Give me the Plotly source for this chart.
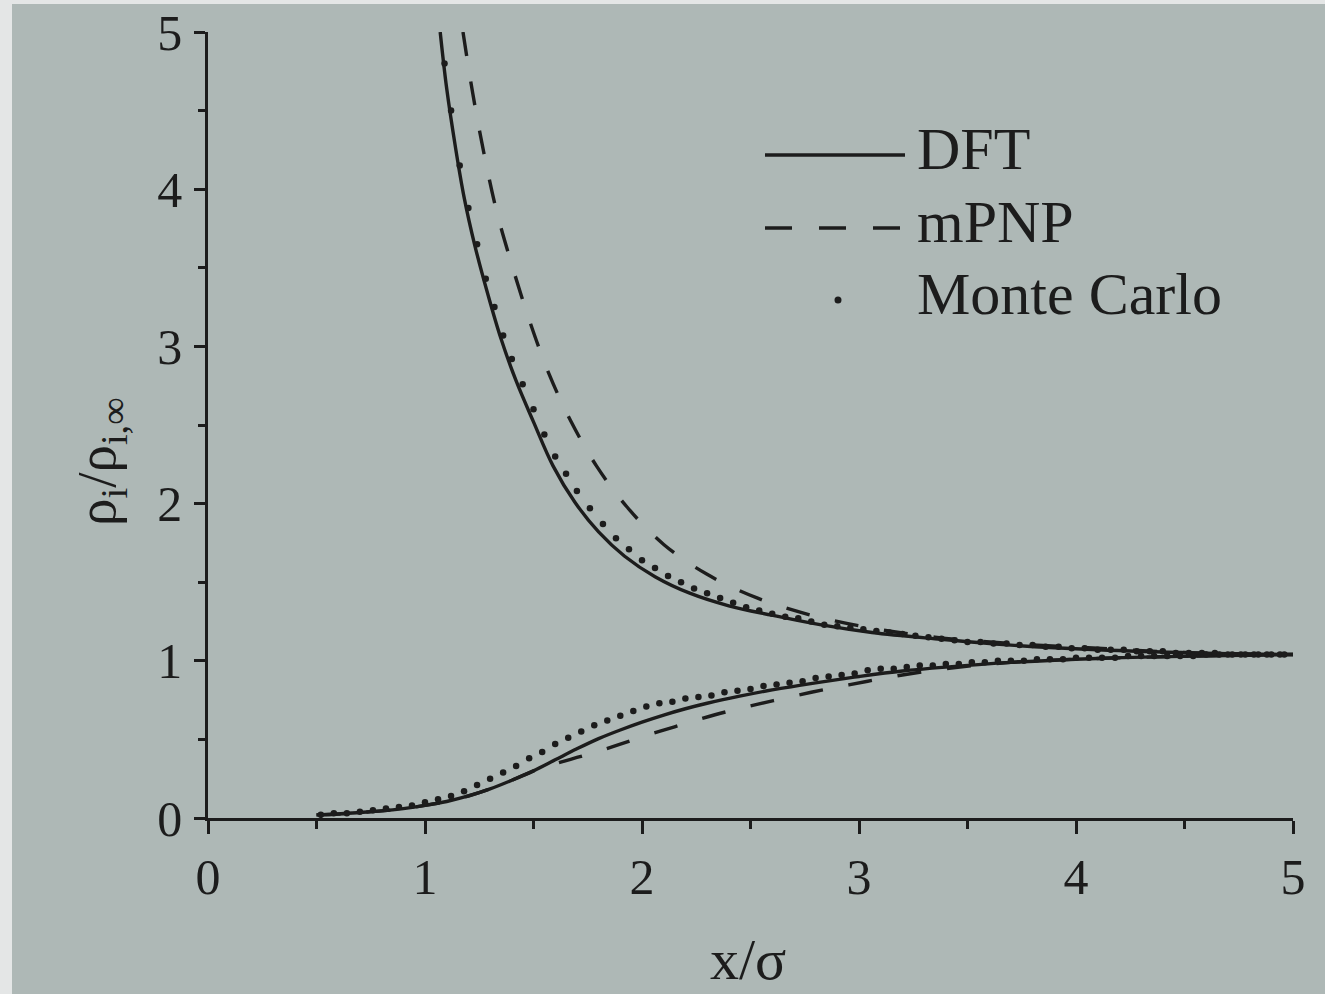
import plotly.graph_objects as go

# ---------------- data ----------------
dft_up_x = [1.07, 1.10, 1.14, 1.18, 1.23, 1.29, 1.35, 1.42, 1.50, 1.59, 1.69, 1.80,
            1.92, 2.06, 2.22, 2.40, 2.60, 2.82, 3.06, 3.35, 3.70, 4.10, 4.55, 5.00]
dft_up_y = [5.00, 4.64, 4.27, 3.95, 3.64, 3.33, 3.05, 2.78, 2.52, 2.24, 2.01, 1.82,
            1.665, 1.535, 1.43, 1.35, 1.29, 1.23, 1.18, 1.14, 1.10, 1.07, 1.05, 1.04]

dft_lo_x = [0.50, 0.60, 0.70, 0.80, 0.90, 1.00, 1.10, 1.20, 1.30, 1.40, 1.50, 1.60,
            1.70, 1.80, 1.90, 2.00, 2.10, 2.20, 2.30, 2.45, 2.60, 2.80, 3.00, 3.20,
            3.40, 3.70, 4.10, 4.55, 5.00]
dft_lo_y = [0.020, 0.025, 0.035, 0.045, 0.060, 0.080, 0.105, 0.140, 0.185, 0.240, 0.300, 0.370,
            0.440, 0.505, 0.560, 0.610, 0.655, 0.695, 0.730, 0.775, 0.815, 0.860, 0.900, 0.935,
            0.960, 0.990, 1.015, 1.030, 1.040]

mpnp_up_x = [1.175, 1.22, 1.27, 1.33, 1.40, 1.48, 1.57, 1.67, 1.79, 1.93, 2.10, 2.30,
             2.53, 2.78, 3.05, 3.35, 3.70, 4.10, 4.55, 5.00]
mpnp_up_y = [5.00, 4.61, 4.24, 3.86, 3.52, 3.17, 2.83, 2.53, 2.24, 1.98, 1.74, 1.55,
             1.40, 1.29, 1.21, 1.15, 1.11, 1.08, 1.05, 1.04]

mpnp_lo_x = [0.50, 0.60, 0.70, 0.80, 0.90, 1.00, 1.10, 1.20, 1.30, 1.40, 1.50, 1.60,
             1.70, 1.80, 1.90, 2.02, 2.15, 2.27, 2.40, 2.52, 2.65, 2.78, 2.91, 3.04,
             3.20, 3.40, 3.70, 4.10, 4.55, 5.00]
mpnp_lo_y = [0.020, 0.025, 0.035, 0.045, 0.060, 0.080, 0.105, 0.140, 0.185, 0.240, 0.300, 0.345,
             0.385, 0.425, 0.470, 0.525, 0.580, 0.630, 0.680, 0.720, 0.760, 0.800, 0.835, 0.870,
             0.910, 0.950, 0.990, 1.015, 1.030, 1.040]

mc_up_x = [1.09, 1.12, 1.16, 1.20, 1.24, 1.28, 1.32, 1.36, 1.40, 1.45, 1.50, 1.55,
           1.60, 1.65, 1.70, 1.76, 1.82, 1.88, 1.94, 2.00, 2.06, 2.12, 2.18, 2.24,
           2.30, 2.36, 2.42, 2.48, 2.54, 2.60, 2.66, 2.72, 2.78, 2.84, 2.90, 2.96,
           3.02, 3.08, 3.14, 3.20, 3.26, 3.32, 3.38, 3.44, 3.50, 3.56, 3.62, 3.68,
           3.74, 3.80, 3.86, 3.92, 3.98, 4.04, 4.10, 4.16, 4.22, 4.28, 4.34, 4.40,
           4.46, 4.52, 4.58, 4.64, 4.70, 4.76, 4.82, 4.88, 4.94]
mc_up_y = [4.80, 4.50, 4.15, 3.88, 3.65, 3.43, 3.25, 3.07, 2.92, 2.76, 2.60, 2.44,
           2.30, 2.19, 2.08, 1.97, 1.87, 1.78, 1.71, 1.64, 1.59, 1.54, 1.50, 1.46,
           1.43, 1.40, 1.37, 1.34, 1.32, 1.30, 1.28, 1.27, 1.25, 1.23, 1.22, 1.21,
           1.20, 1.19, 1.18, 1.17, 1.16, 1.15, 1.14, 1.13, 1.12, 1.12, 1.11, 1.11,
           1.10, 1.10, 1.09, 1.09, 1.08, 1.08, 1.07, 1.07, 1.07, 1.06, 1.06, 1.06,
           1.05, 1.05, 1.05, 1.05, 1.04, 1.04, 1.04, 1.04, 1.04]

mc_lo_x = [0.52, 0.58, 0.64, 0.70, 0.76, 0.82, 0.88, 0.94, 1.00, 1.06, 1.12, 1.18,
           1.24, 1.30, 1.36, 1.42, 1.48, 1.54, 1.60, 1.66, 1.72, 1.78, 1.84, 1.90,
           1.96, 2.02, 2.08, 2.14, 2.20, 2.26, 2.32, 2.38, 2.44, 2.50, 2.56, 2.62,
           2.68, 2.74, 2.80, 2.86, 2.92, 2.98, 3.04, 3.10, 3.16, 3.22, 3.28, 3.34,
           3.40, 3.46, 3.52, 3.58, 3.64, 3.70, 3.76, 3.82, 3.88, 3.94, 4.00, 4.06,
           4.12, 4.18, 4.24, 4.30, 4.36, 4.42, 4.48, 4.54, 4.60, 4.66, 4.72, 4.78,
           4.84, 4.90, 4.96]
mc_lo_y = [0.02, 0.03, 0.03, 0.04, 0.05, 0.06, 0.07, 0.08, 0.10, 0.12, 0.14, 0.17,
           0.21, 0.25, 0.29, 0.33, 0.38, 0.42, 0.47, 0.51, 0.55, 0.59, 0.62, 0.65,
           0.68, 0.71, 0.73, 0.74, 0.76, 0.77, 0.78, 0.80, 0.81, 0.82, 0.84, 0.85,
           0.86, 0.87, 0.89, 0.90, 0.91, 0.92, 0.94, 0.95, 0.95, 0.96, 0.97, 0.97,
           0.98, 0.98, 0.99, 0.99, 1.00, 1.00, 1.00, 1.01, 1.01, 1.01, 1.02, 1.02,
           1.02, 1.02, 1.03, 1.03, 1.03, 1.03, 1.03, 1.03, 1.04, 1.04, 1.04, 1.04,
           1.04, 1.04, 1.04]

x_ticks = [0, 1, 2, 3, 4, 5]
y_ticks = [0, 1, 2, 3, 4, 5]
legend_names = ["DFT", "mPNP", "Monte Carlo"]

# ---------------- styling ----------------
INK = "#1c1c1c"
BG = "#aeb8b6"
SERIF = "Liberation Serif, Times New Roman, serif"
DASH = "24px,26px"
LW = 3.4

fig = go.Figure()

for xs, ys in [(dft_up_x, dft_up_y), (dft_lo_x, dft_lo_y)]:
    fig.add_trace(go.Scatter(x=xs, y=ys, mode="lines", name="DFT", showlegend=False,
                             line=dict(color=INK, width=LW, shape="spline", smoothing=1.0)))
for xs, ys in [(mpnp_up_x, mpnp_up_y), (mpnp_lo_x, mpnp_lo_y)]:
    fig.add_trace(go.Scatter(x=xs, y=ys, mode="lines", name="mPNP", showlegend=False,
                             line=dict(color=INK, width=LW, dash=DASH, shape="spline", smoothing=1.0)))
for xs, ys in [(mc_up_x, mc_up_y), (mc_lo_x, mc_lo_y)]:
    fig.add_trace(go.Scatter(x=xs, y=ys, mode="markers", name="Monte Carlo", showlegend=False,
                             marker=dict(color=INK, size=6.5, line=dict(width=0))))

# ---------------- hand-drawn legend (paper coordinates) ----------------
L, R, T, B = 208, 32, 32, 176
W, H = 1325, 994
pw, ph = W - L - R, H - T - B


def px(xp):
    return (xp - L) / pw


def py(yp):
    return (H - B - yp) / ph


fig.add_shape(type="line", xref="paper", yref="paper", x0=px(765), x1=px(905),
              y0=py(155), y1=py(155), line=dict(color=INK, width=LW))
fig.add_shape(type="line", xref="paper", yref="paper", x0=px(765), x1=px(905),
              y0=py(228), y1=py(228), line=dict(color=INK, width=LW, dash="27px,27px"))
fig.add_shape(type="circle", xref="paper", yref="paper", x0=px(834.5), x1=px(841.5),
              y0=py(303.5), y1=py(296.5), fillcolor=INK, line=dict(width=0))

for name, yc in zip(legend_names, [149, 222, 294]):
    fig.add_annotation(text=name, xref="paper", yref="paper", x=px(915), y=py(yc),
                       xanchor="left", yanchor="middle", showarrow=False,
                       font=dict(family=SERIF, size=60, color=INK))

# axis titles
fig.add_annotation(text="x/σ", xref="paper", yref="paper", x=px(748), y=py(960),
                   xanchor="center", yanchor="middle", showarrow=False,
                   font=dict(family=SERIF, size=58, color=INK))
fig.add_annotation(text="ρ<sub>i</sub>/ρ<sub>i,∞</sub>", xref="paper", yref="paper",
                   x=px(100), y=py(462), xanchor="center", yanchor="middle",
                   textangle=-90, showarrow=False,
                   font=dict(family=SERIF, size=55, color=INK))

axis_common = dict(showgrid=False, zeroline=False, showline=True, linecolor=INK,
                   linewidth=2.6, ticks="outside", tickcolor=INK, tickwidth=2.6,
                   automargin=False,
                   tickfont=dict(family=SERIF, size=50, color=INK))

fig.update_xaxes(range=[0, 5], tickvals=x_ticks, ticktext=[str(v) for v in x_ticks],
                 ticklen=13, ticklabelstandoff=0,
                 minor=dict(dtick=0.5, ticks="outside", ticklen=8, tickcolor=INK, tickwidth=2.6),
                 **axis_common)
fig.update_yaxes(range=[0, 5], tickvals=y_ticks, ticktext=[str(v) for v in y_ticks],
                 ticklen=11, ticklabelstandoff=2,
                 minor=dict(dtick=0.5, ticks="outside", ticklen=7, tickcolor=INK, tickwidth=2.6),
                 **axis_common)

# photo edge strips
fig.add_shape(type="rect", xref="paper", yref="paper", x0=px(0), x1=px(12), y0=py(H), y1=py(0),
              fillcolor="#e4e6e6", line=dict(width=0), layer="below")
fig.add_shape(type="rect", xref="paper", yref="paper", x0=px(0), x1=px(W), y0=py(4), y1=py(0),
              fillcolor="#e4e6e6", line=dict(width=0), layer="below")

fig.update_layout(width=W, height=H, margin=dict(l=L, r=R, t=T, b=B, autoexpand=False),
                  paper_bgcolor=BG, plot_bgcolor=BG, showlegend=False)

fig.write_html("out.html")
